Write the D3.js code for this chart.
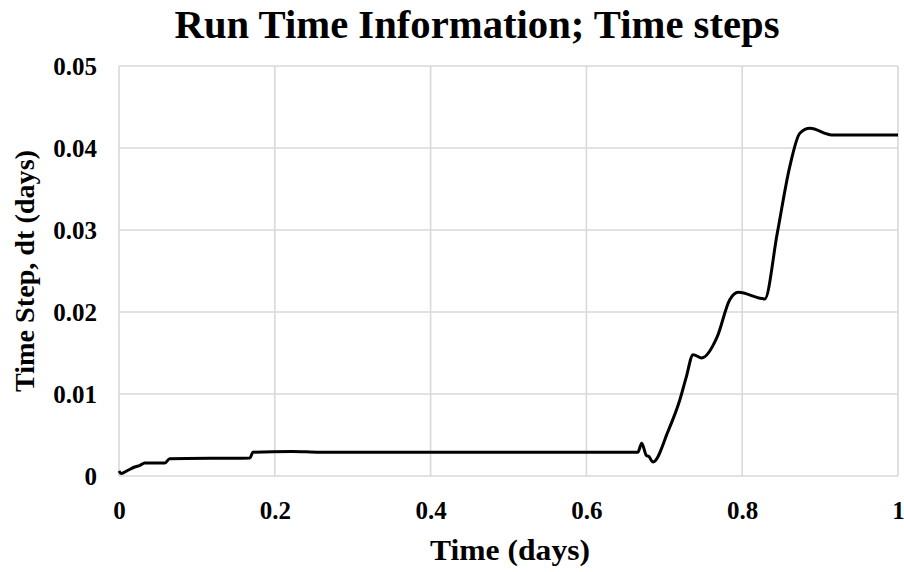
<!DOCTYPE html>
<html>
<head>
<meta charset="utf-8">
<script src="https://cdn.jsdelivr.net/npm/d3@7"></script>
<style>
  html, body { margin: 0; padding: 0; background: #fff; }
  svg { display: block; }
  text { font-family: "Liberation Serif", "Times New Roman", serif; font-weight: bold; fill: #000; }
</style>
</head>
<body>
<svg id="chart" width="904" height="572"></svg>
<script>
const titleText = "Run Time Information; Time steps";
const xTitle = "Time (days)";
const yTitle = "Time Step, dt (days)";
const xTicks = [0, 0.2, 0.4, 0.6, 0.8, 1];
const yTicks = [0, 0.01, 0.02, 0.03, 0.04, 0.05];

const time = [0, 0.0026, 0.0116, 0.02, 0.027, 0.033, 0.059, 0.065, 0.168, 0.172, 0.222, 0.258,
  0.666, 0.671, 0.677, 0.680, 0.6855, 0.705, 0.72, 0.728, 0.737, 0.748, 0.768, 0.784, 0.795,
  0.829, 0.845, 0.861, 0.874, 0.887, 0.915, 1.0];
const dt = [0.0006, 0.0003, 0.0007, 0.0011, 0.0013, 0.0016, 0.0016, 0.0021, 0.0022, 0.0029, 0.0030, 0.0029,
  0.0029, 0.0040, 0.0025, 0.0024, 0.0017, 0.0055, 0.0093, 0.0120, 0.0148, 0.0144, 0.0170, 0.0215, 0.0224,
  0.0216, 0.0296, 0.0377, 0.0418, 0.0424, 0.0416, 0.0416];

const svg = d3.select("#chart");
const L = 119, R = 898, T = 66, B = 476;
const x = d3.scaleLinear().domain([0, 1]).range([L, R]);
const y = d3.scaleLinear().domain([0, 0.05]).range([B, T]);

// gridlines
const gridColor = "#d9d9d9";
svg.append("g").selectAll("line.h").data(yTicks).join("line")
  .attr("x1", L).attr("x2", R)
  .attr("y1", d => y(d)).attr("y2", d => y(d))
  .attr("stroke", gridColor).attr("stroke-width", 1.6);
svg.append("g").selectAll("line.v").data(xTicks).join("line")
  .attr("y1", T).attr("y2", B)
  .attr("x1", d => x(d)).attr("x2", d => x(d))
  .attr("stroke", gridColor).attr("stroke-width", 1.6);

// axes (labels only)
const xAxis = d3.axisBottom(x).tickValues(xTicks).tickSize(0).tickPadding(0).tickFormat(d3.format("~g"));
const gx = svg.append("g").attr("transform", `translate(0,${B})`).call(xAxis);
gx.select(".domain").remove();
gx.selectAll("text").attr("dy", null).attr("y", 43).attr("font-size", 25)
  .style("font-family", '"Liberation Serif", serif').style("font-weight", "bold");

const yAxis = d3.axisLeft(y).tickValues(yTicks).tickSize(0).tickPadding(0).tickFormat(d3.format("~g"));
const gy = svg.append("g").attr("transform", `translate(${L},0)`).call(yAxis);
gy.select(".domain").remove();
gy.selectAll("text").attr("x", -22).attr("dy", "0.33em").attr("font-size", 25)
  .style("font-family", '"Liberation Serif", serif').style("font-weight", "bold");

// line
const line = d3.line().x((d, i) => x(time[i])).y((d, i) => y(dt[i])).curve(d3.curveMonotoneX);
svg.append("path").datum(dt).attr("d", line)
  .attr("fill", "none").attr("stroke", "#000").attr("stroke-width", 3).attr("stroke-linejoin", "round");

// titles
svg.append("text").attr("x", 477).attr("y", 38).attr("text-anchor", "middle")
  .attr("font-size", 40).attr("textLength", 605).attr("lengthAdjust", "spacingAndGlyphs").text(titleText);
svg.append("text").attr("x", 510).attr("y", 560).attr("text-anchor", "middle")
  .attr("font-size", 30).attr("textLength", 160).attr("lengthAdjust", "spacingAndGlyphs").text(xTitle);
svg.append("text").attr("transform", "translate(34,271) rotate(-90)").attr("text-anchor", "middle")
  .attr("font-size", 28).attr("textLength", 242).attr("lengthAdjust", "spacingAndGlyphs").text(yTitle);
</script>
</body>
</html>
